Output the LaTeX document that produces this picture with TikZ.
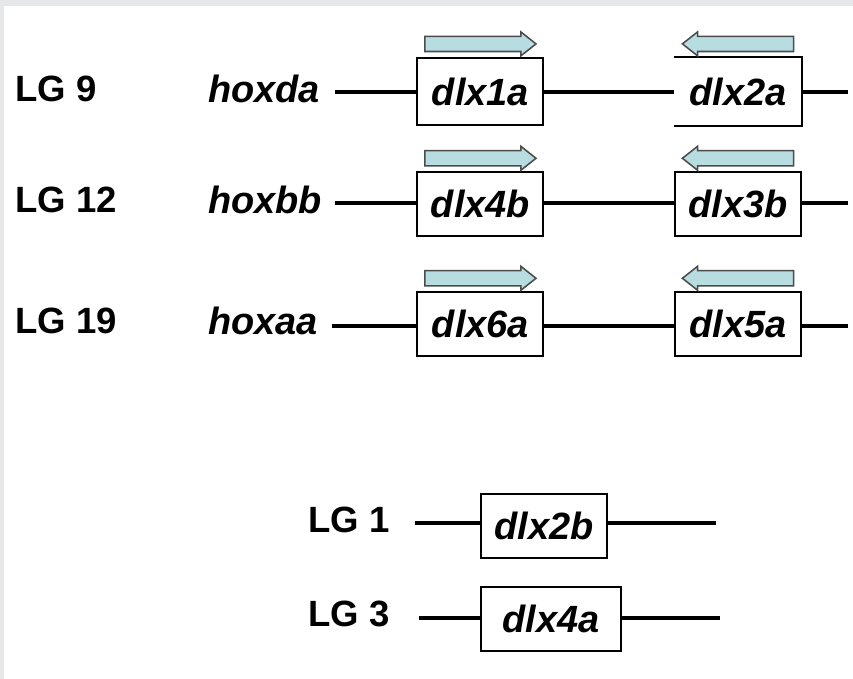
\documentclass[tikz,border=0pt]{standalone}
\usepackage{fontspec}
\setmainfont{Liberation Sans}
\definecolor{arrowfill}{RGB}{183,221,224}
\definecolor{framegray}{RGB}{230,231,233}
\begin{document}
\begin{tikzpicture}
\tikzstyle{lg}=[anchor=west,inner sep=0pt,font=\fontsize{26}{30}\selectfont\bfseries]
\tikzstyle{hox}=[lg,font=\fontsize{27}{30}\selectfont\bfseries\itshape]
\tikzstyle{gene}=[draw,line width=1.3pt,minimum width=3.15cm,minimum height=1.58cm,inner sep=0pt,font=\fontsize{27}{30}\selectfont\bfseries\itshape]
\tikzstyle{chr}=[line width=2.6pt]
\tikzstyle{arrowbox}=[fill=arrowfill,draw=black!70,line width=1.1pt,line join=miter]
\tikzset{
  fwd/.pic={\draw[arrowbox] (-1.39,-0.19) -- (1.01,-0.19) -- (1.01,-0.3) -- (1.39,0)
    -- (1.01,0.3) -- (1.01,0.19) -- (-1.39,0.19) -- cycle;},
  bwd/.pic={\draw[arrowbox] (1.39,-0.19) -- (-1.01,-0.19) -- (-1.01,-0.3) -- (-1.39,0)
    -- (-1.01,0.3) -- (-1.01,0.19) -- (1.39,0.19) -- cycle;}
}

% frame
\fill[framegray] (0,0) rectangle (21.325,-16.975);
\fill[white] (0.1,-0.15) rectangle (21.325,-16.975);
\useasboundingbox (0,0) rectangle (21.325,-16.975);

% LG 9
\node[lg] (lg9) at (0.375,-2.22) {LG 9};
\node[hox] (hoxda) at (5.2,-2.22) {hoxda};
\node[gene,minimum height=1.68cm] (dlx1a) at (12.01,-2.29) {dlx1a};
\node[gene,draw=none,minimum height=1.68cm] (dlx2a) at (18.45,-2.29) {dlx2a};
\coordinate (s9) at (8.375,-2.3);
\coordinate (e9) at (21.2,-2.3);
\draw[chr] (s9) -- (s9-|dlx1a.west) (dlx1a.east|-s9) -- (s9-|dlx2a.west) (dlx2a.east|-s9) -- (e9);
\draw[line width=1.3pt] (dlx2a.north west) -- (dlx2a.north east) -- (dlx2a.south east) -- (dlx2a.south west);
\pic at ([yshift=0.33cm]dlx1a.north) {fwd};
\pic at ([yshift=0.33cm]dlx2a.north) {bwd};

% LG 12
\node[lg] (lg12) at (0.375,-5.0) {LG 12};
\node[hox] (hoxbb) at (5.2,-5.0) {hoxbb};
\node[gene] (dlx4b) at (12.01,-5.1) {dlx4b};
\node[gene] (dlx3b) at (18.45,-5.1) {dlx3b};
\coordinate (s12) at (8.375,-5.075);
\coordinate (e12) at (21.2,-5.075);
\draw[chr] (s12) -- (s12-|dlx4b.west) (dlx4b.east|-s12) -- (s12-|dlx3b.west) (dlx3b.east|-s12) -- (e12);
\pic at ([yshift=0.33cm]dlx4b.north) {fwd};
\pic at ([yshift=0.33cm]dlx3b.north) {bwd};

% LG 19
\node[lg] (lg19) at (0.375,-8.02) {LG 19};
\node[hox] (hoxaa) at (5.2,-8.02) {hoxaa};
\node[gene] (dlx6a) at (12.01,-8.1) {dlx6a};
\node[gene] (dlx5a) at (18.45,-8.1) {dlx5a};
\coordinate (s19) at (8.3,-8.15);
\coordinate (e19) at (21.2,-8.15);
\draw[chr] (s19) -- (s19-|dlx6a.west) (dlx6a.east|-s19) -- (s19-|dlx5a.west) (dlx5a.east|-s19) -- (e19);
\pic at ([yshift=0.33cm]dlx6a.north) {fwd};
\pic at ([yshift=0.33cm]dlx5a.north) {bwd};

% LG 1
\node[lg] (lg1) at (7.7,-13.0) {LG 1};
\node[gene] (dlx2b) at (13.6,-13.15) {dlx2b};
\coordinate (s1) at (10.375,-13.075);
\coordinate (e1) at (17.9,-13.075);
\draw[chr] (s1) -- (s1-|dlx2b.west) (dlx2b.east|-s1) -- (e1);

% LG 3
\node[lg] (lg3) at (7.7,-15.35) {LG 3};
\node[gene,minimum width=3.5cm] (dlx4a) at (13.775,-15.475) {dlx4a};
\coordinate (s3) at (10.475,-15.45);
\coordinate (e3) at (18.0,-15.45);
\draw[chr] (s3) -- (s3-|dlx4a.west) (dlx4a.east|-s3) -- (e3);
\end{tikzpicture}
\end{document}
